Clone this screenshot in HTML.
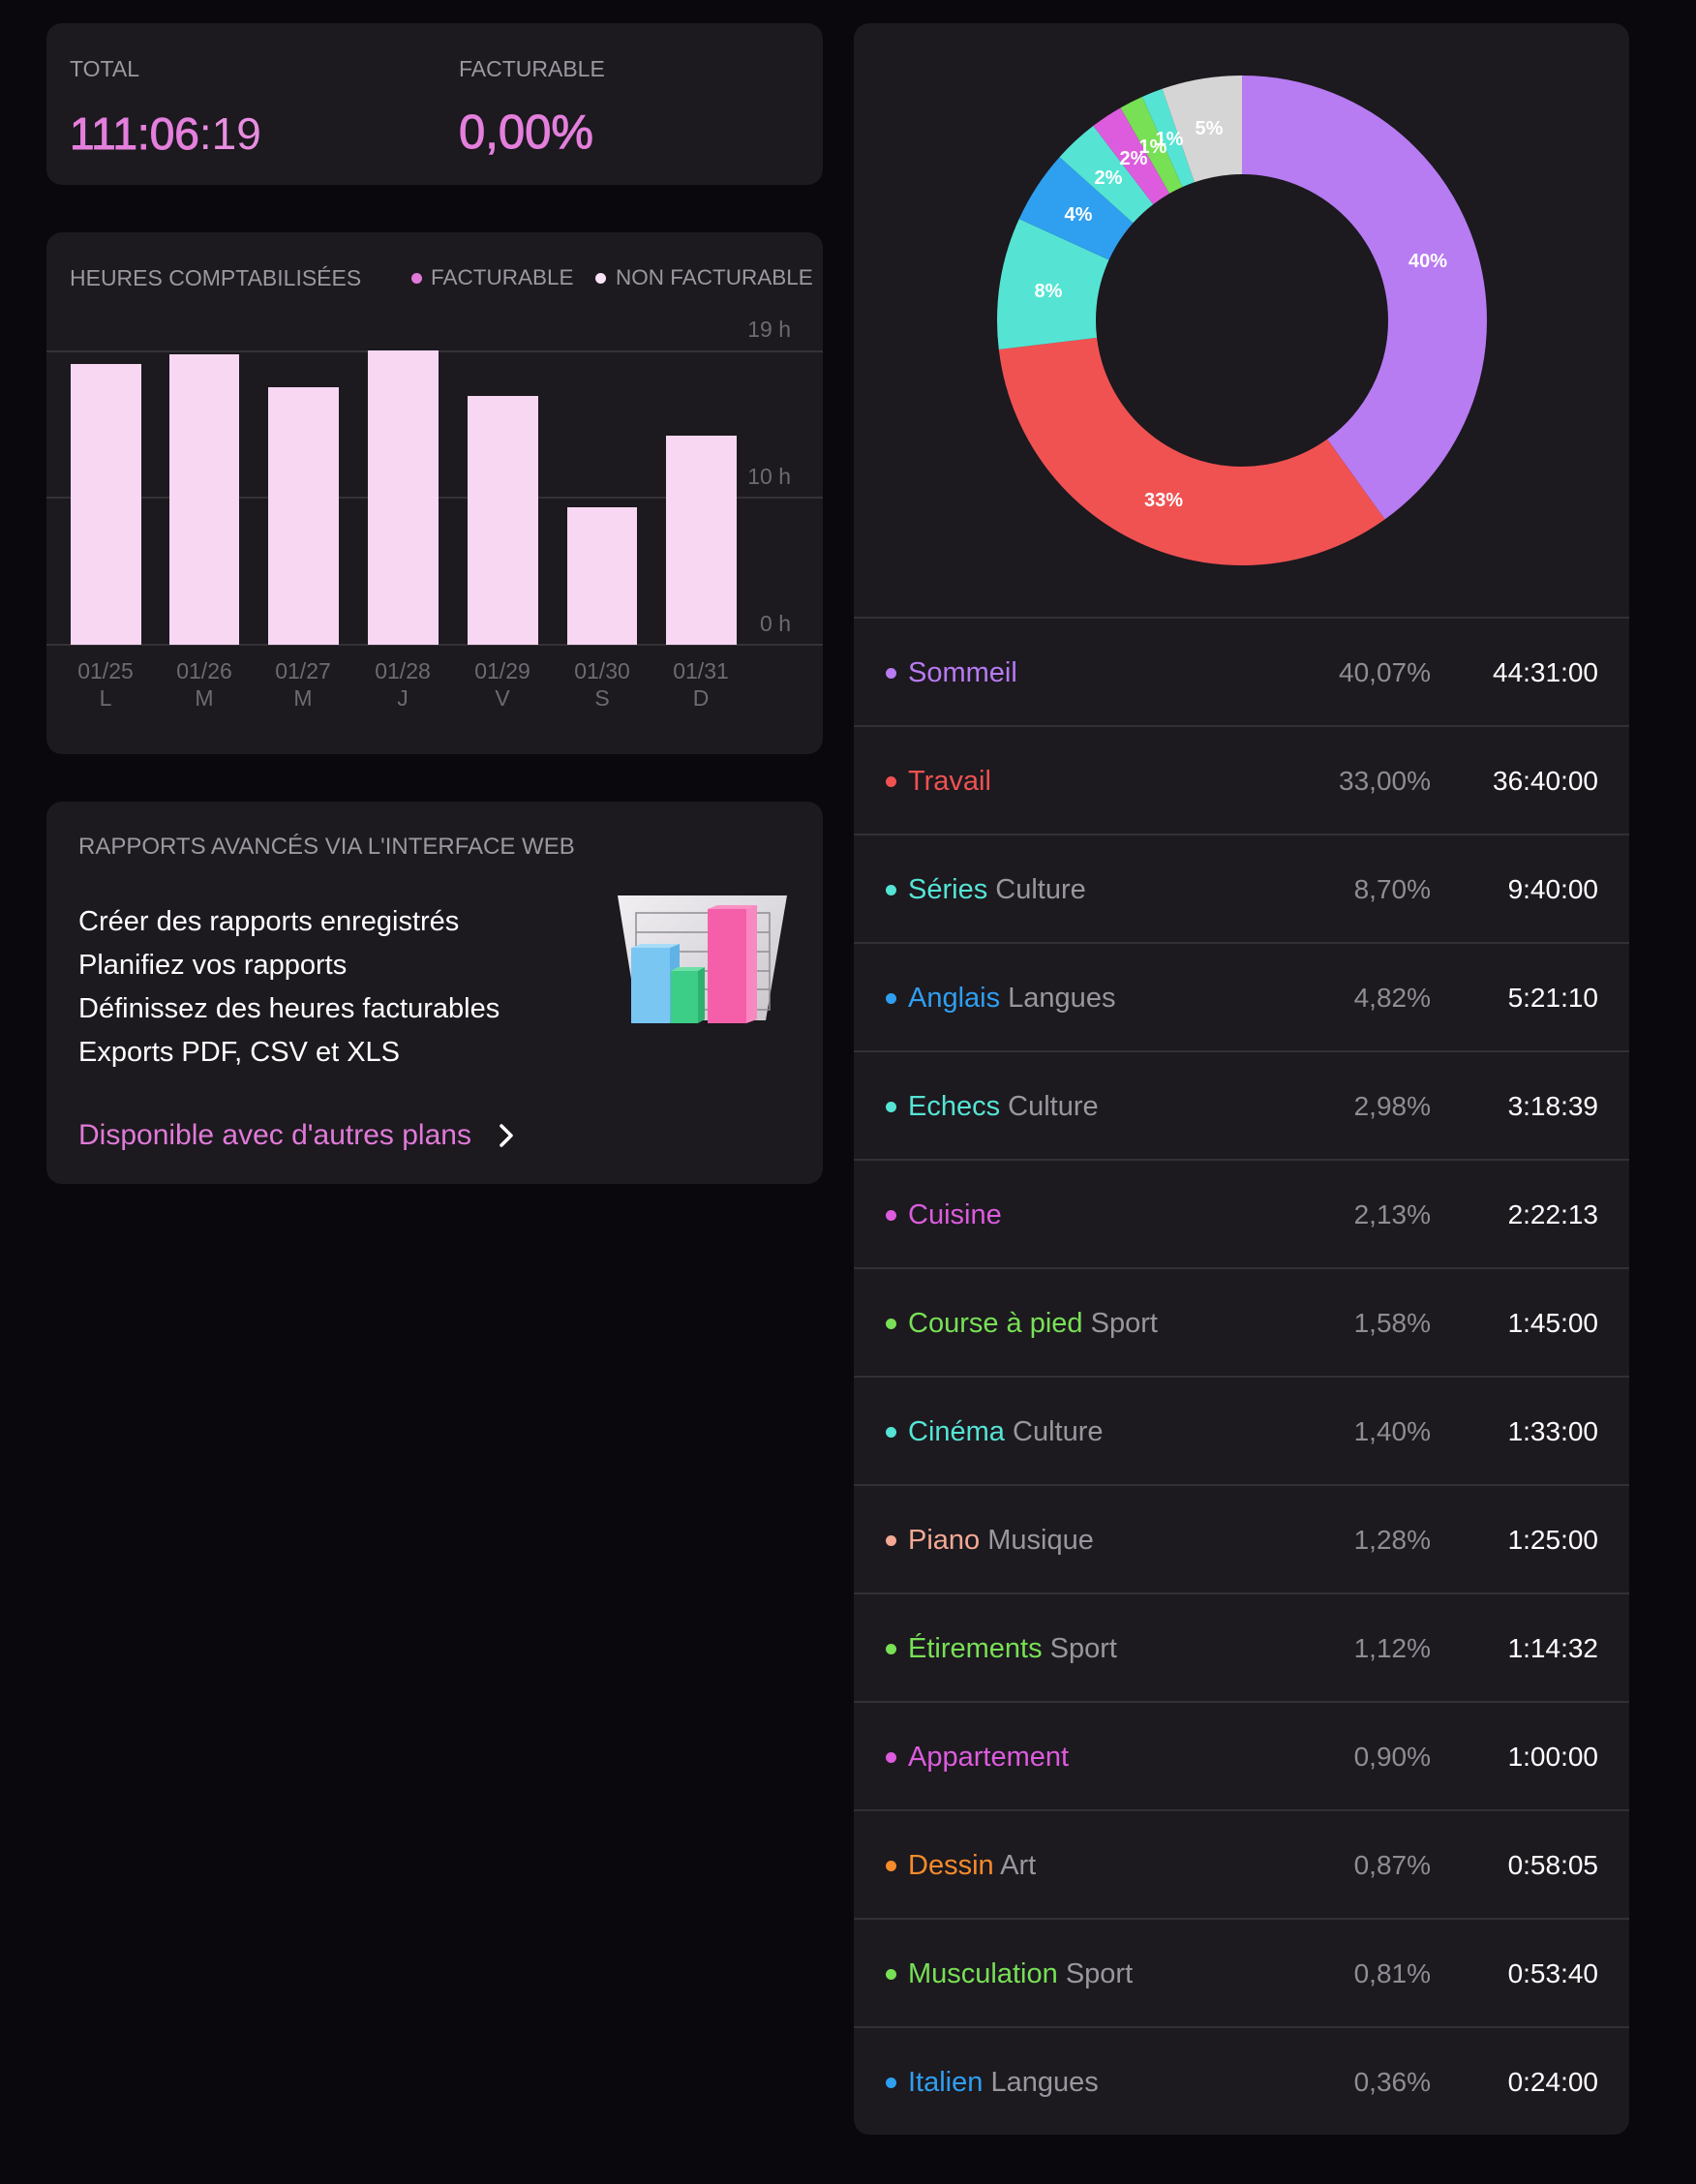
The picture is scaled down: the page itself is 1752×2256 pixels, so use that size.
<!DOCTYPE html>
<html><head><meta charset="utf-8">
<style>
html,body{margin:0;padding:0;}
body{width:1752px;height:2256px;background:#0b080d;position:relative;overflow:hidden;font-family:"Liberation Sans",sans-serif;}
.card{position:absolute;background:#1c191f;border-radius:16px;}
.t{position:absolute;white-space:nowrap;height:40px;line-height:40px;font-family:"Liberation Sans",sans-serif;}
.lbl{font-size:23px;color:#9a999f;}
.ax{font-size:23px;color:#6c6b71;text-align:right;}
.dt{font-size:23px;color:#6c6b71;text-align:center;width:100px;}
.bar{position:absolute;background:#f7d7f1;}
.gl{position:absolute;left:48px;width:802px;height:2px;background:#343137;}
.sep{position:absolute;left:882px;width:801px;height:2px;background:#322f35;}
.dot{position:absolute;width:11px;height:11px;border-radius:50%;}
.nm{font-size:29px;left:938px;}
.cat{color:#98979d;}
.pc{font-size:28px;color:#8e8d93;right:274px;text-align:right;}
.tm{font-size:28px;color:#ffffff;right:101px;text-align:right;}
.line{font-size:29px;color:#ffffff;left:81px;}
</style></head><body>

<!-- Card 1 -->
<div class="card" style="left:48px;top:24px;width:802px;height:167px;"></div>
<div class="t lbl" style="left:72px;top:51px;">TOTAL</div>
<div class="t lbl" style="left:474px;top:51px;">FACTURABLE</div>
<div class="t" style="left:72px;top:113px;height:50px;line-height:50px;font-size:46px;color:#e47fdc;"><span style="-webkit-text-stroke:1px #e47fdc;">111:06</span><span style="color:#e88ee0;">:19</span></div>
<div class="t" style="left:474px;top:112px;height:50px;line-height:50px;font-size:49px;color:#e47fdc;-webkit-text-stroke:1px #e47fdc;">0,00%</div>

<!-- Card 2 -->
<div class="card" style="left:48px;top:240px;width:802px;height:539px;"></div>
<div class="t lbl" style="left:72px;top:267px;">HEURES COMPTABILISÉES</div>
<div class="dot" style="left:425px;top:282px;background:#e07ad8;"></div>
<div class="t lbl" style="left:445px;top:267px;font-size:22.5px;">FACTURABLE</div>
<div class="dot" style="left:615px;top:282px;background:#fbe3f6;"></div>
<div class="t lbl" style="left:636px;top:267px;font-size:22.5px;">NON FACTURABLE</div>

<div class="gl" style="top:362px;"></div>
<div class="gl" style="top:513px;"></div>
<div class="gl" style="top:665px;"></div>
<div class="t ax" style="right:935px;top:320px;">19 h</div>
<div class="t ax" style="right:935px;top:472px;">10 h</div>
<div class="t ax" style="right:935px;top:624px;">0 h</div>

<div class="bar" style="left:73px;top:376px;width:73px;height:290px;"></div>
<div class="bar" style="left:175px;top:366px;width:72px;height:300px;"></div>
<div class="bar" style="left:277px;top:400px;width:73px;height:266px;"></div>
<div class="bar" style="left:380px;top:362px;width:73px;height:304px;"></div>
<div class="bar" style="left:483px;top:409px;width:73px;height:257px;"></div>
<div class="bar" style="left:586px;top:524px;width:72px;height:142px;"></div>
<div class="bar" style="left:688px;top:450px;width:73px;height:216px;"></div>

<div class="t dt" style="left:59px;top:673px;">01/25</div>
<div class="t dt" style="left:161px;top:673px;">01/26</div>
<div class="t dt" style="left:263px;top:673px;">01/27</div>
<div class="t dt" style="left:366px;top:673px;">01/28</div>
<div class="t dt" style="left:469px;top:673px;">01/29</div>
<div class="t dt" style="left:572px;top:673px;">01/30</div>
<div class="t dt" style="left:674px;top:673px;">01/31</div>
<div class="t dt" style="left:59px;top:701px;">L</div>
<div class="t dt" style="left:161px;top:701px;">M</div>
<div class="t dt" style="left:263px;top:701px;">M</div>
<div class="t dt" style="left:366px;top:701px;">J</div>
<div class="t dt" style="left:469px;top:701px;">V</div>
<div class="t dt" style="left:572px;top:701px;">S</div>
<div class="t dt" style="left:674px;top:701px;">D</div>

<!-- Card 3 -->
<div class="card" style="left:48px;top:828px;width:802px;height:395px;"></div>
<div class="t lbl" style="left:81px;top:855px;font-size:24px;">RAPPORTS AVANCÉS VIA L'INTERFACE WEB</div>
<div class="t line" style="top:932px;">Créer des rapports enregistrés</div>
<div class="t line" style="top:977px;">Planifiez vos rapports</div>
<div class="t line" style="top:1022px;">Définissez des heures facturables</div>
<div class="t line" style="top:1067px;">Exports PDF, CSV et XLS</div>
<div class="t line" style="top:1153px;color:#e07ad8;font-size:30px;">Disponible avec d'autres plans</div>
<svg style="position:absolute;left:0;top:0;" width="880" height="1240" viewBox="0 0 880 1240">
  <polyline points="518,1163 528,1173 518,1183" fill="none" stroke="#ffffff" stroke-width="3.5" stroke-linecap="round" stroke-linejoin="round"/>
  <defs>
    <linearGradient id="pg" x1="0" y1="0" x2="1" y2="1">
      <stop offset="0" stop-color="#f1eff2"/><stop offset="1" stop-color="#c8c6cb"/>
    </linearGradient>
  </defs>
  <polygon points="638,925 813,925 791,1054 659,1054" fill="url(#pg)"/>
  <g stroke="#8f8d93" stroke-width="1.5" fill="none">
    <rect x="657" y="943" width="138" height="100"/>
    <line x1="657" y1="963" x2="795" y2="963"/>
    <line x1="657" y1="983" x2="795" y2="983"/>
    <line x1="657" y1="1003" x2="795" y2="1003"/>
    <line x1="657" y1="1022" x2="795" y2="1022"/>
  </g>
  <rect x="652" y="979" width="40" height="78" fill="#79c6f3"/>
  <polygon points="652,979 662,975 702,975 692,979" fill="#a7dcf8"/>
  <polygon points="692,979 702,975 702,1053 692,1057" fill="#5fb2e6"/>
  <rect x="693" y="1003" width="28" height="54" fill="#3ccd86"/>
  <polygon points="693,1003 700,999 728,999 721,1003" fill="#6ee0a8"/>
  <polygon points="721,1003 728,999 728,1053 721,1057" fill="#2fb070"/>
  <rect x="731" y="939" width="40" height="118" fill="#f55fa9"/>
  <polygon points="731,939 741,935 782,935 771,939" fill="#fb8fc3"/>
  <polygon points="771,939 782,935 782,1053 771,1057" fill="#f788c0"/>
</svg>

<!-- Right card -->
<div class="card" style="left:882px;top:24px;width:801px;height:2181px;"></div>
<svg style="position:absolute;left:1000px;top:50px;" width="570" height="570" viewBox="1000 50 570 570">
  <g fill="none" stroke-width="102" transform="rotate(-90 1283 331)">
    <circle cx="1283" cy="331" r="202" stroke="#b77bf2" stroke-dasharray="508.57 2000" stroke-dashoffset="0"/>
    <circle cx="1283" cy="331" r="202" stroke="#f05252" stroke-dasharray="418.84 2000" stroke-dashoffset="-508.57"/>
    <circle cx="1283" cy="331" r="202" stroke="#55e4d4" stroke-dasharray="110.42 2000" stroke-dashoffset="-927.41"/>
    <circle cx="1283" cy="331" r="202" stroke="#2f9ff0" stroke-dasharray="61.18 2000" stroke-dashoffset="-1037.83"/>
    <circle cx="1283" cy="331" r="202" stroke="#55e4d4" stroke-dasharray="37.82 2000" stroke-dashoffset="-1099.0"/>
    <circle cx="1283" cy="331" r="202" stroke="#dc5cdd" stroke-dasharray="27.03 2000" stroke-dashoffset="-1136.82"/>
    <circle cx="1283" cy="331" r="202" stroke="#78e055" stroke-dasharray="20.05 2000" stroke-dashoffset="-1163.86"/>
    <circle cx="1283" cy="331" r="202" stroke="#55e4d4" stroke-dasharray="17.77 2000" stroke-dashoffset="-1183.91"/>
    <circle cx="1283" cy="331" r="202" stroke="#d5d5d5" stroke-dasharray="67.6 2000" stroke-dashoffset="-1201.68"/>
  </g>
  <g fill="#ffffff" font-family="Liberation Sans, sans-serif" font-size="20" font-weight="bold" text-anchor="middle">
    <text x="1475" y="276">40%</text>
    <text x="1202" y="523">33%</text>
    <text x="1083" y="307">8%</text>
    <text x="1114" y="228">4%</text>
    <text x="1145" y="190">2%</text>
    <text x="1171" y="170">2%</text>
    <text x="1191" y="158">1%</text>
    <text x="1208" y="150">1%</text>
    <text x="1249" y="139">5%</text>
  </g>
</svg>

<div class="sep" style="top:637px;"></div>
<div class="sep" style="top:749px;"></div>
<div class="sep" style="top:861px;"></div>
<div class="sep" style="top:973px;"></div>
<div class="sep" style="top:1085px;"></div>
<div class="sep" style="top:1197px;"></div>
<div class="sep" style="top:1309px;"></div>
<div class="sep" style="top:1421px;"></div>
<div class="sep" style="top:1533px;"></div>
<div class="sep" style="top:1645px;"></div>
<div class="sep" style="top:1757px;"></div>
<div class="sep" style="top:1869px;"></div>
<div class="sep" style="top:1981px;"></div>
<div class="sep" style="top:2093px;"></div>

<!-- rows -->
<div class="dot" style="left:915px;top:690px;background:#b77bf2;"></div>
<div class="t nm" style="top:675px;color:#b77bf2;">Sommeil</div>
<div class="t pc" style="top:675px;">40,07%</div>
<div class="t tm" style="top:675px;">44:31:00</div>

<div class="dot" style="left:915px;top:802px;background:#f05252;"></div>
<div class="t nm" style="top:787px;color:#f05252;">Travail</div>
<div class="t pc" style="top:787px;">33,00%</div>
<div class="t tm" style="top:787px;">36:40:00</div>

<div class="dot" style="left:915px;top:914px;background:#55e4d4;"></div>
<div class="t nm" style="top:899px;color:#55e4d4;">Séries <span class="cat">Culture</span></div>
<div class="t pc" style="top:899px;">8,70%</div>
<div class="t tm" style="top:899px;">9:40:00</div>

<div class="dot" style="left:915px;top:1026px;background:#2f9ff0;"></div>
<div class="t nm" style="top:1011px;color:#2f9ff0;">Anglais <span class="cat">Langues</span></div>
<div class="t pc" style="top:1011px;">4,82%</div>
<div class="t tm" style="top:1011px;">5:21:10</div>

<div class="dot" style="left:915px;top:1138px;background:#55e4d4;"></div>
<div class="t nm" style="top:1123px;color:#55e4d4;">Echecs <span class="cat">Culture</span></div>
<div class="t pc" style="top:1123px;">2,98%</div>
<div class="t tm" style="top:1123px;">3:18:39</div>

<div class="dot" style="left:915px;top:1250px;background:#dc5cdd;"></div>
<div class="t nm" style="top:1235px;color:#dc5cdd;">Cuisine</div>
<div class="t pc" style="top:1235px;">2,13%</div>
<div class="t tm" style="top:1235px;">2:22:13</div>

<div class="dot" style="left:915px;top:1362px;background:#78e055;"></div>
<div class="t nm" style="top:1347px;color:#78e055;">Course à pied <span class="cat">Sport</span></div>
<div class="t pc" style="top:1347px;">1,58%</div>
<div class="t tm" style="top:1347px;">1:45:00</div>

<div class="dot" style="left:915px;top:1474px;background:#55e4d4;"></div>
<div class="t nm" style="top:1459px;color:#55e4d4;">Cinéma <span class="cat">Culture</span></div>
<div class="t pc" style="top:1459px;">1,40%</div>
<div class="t tm" style="top:1459px;">1:33:00</div>

<div class="dot" style="left:915px;top:1586px;background:#f4a994;"></div>
<div class="t nm" style="top:1571px;color:#f4a994;">Piano <span class="cat">Musique</span></div>
<div class="t pc" style="top:1571px;">1,28%</div>
<div class="t tm" style="top:1571px;">1:25:00</div>

<div class="dot" style="left:915px;top:1698px;background:#78e055;"></div>
<div class="t nm" style="top:1683px;color:#78e055;">Étirements <span class="cat">Sport</span></div>
<div class="t pc" style="top:1683px;">1,12%</div>
<div class="t tm" style="top:1683px;">1:14:32</div>

<div class="dot" style="left:915px;top:1810px;background:#dc5cdd;"></div>
<div class="t nm" style="top:1795px;color:#dc5cdd;">Appartement</div>
<div class="t pc" style="top:1795px;">0,90%</div>
<div class="t tm" style="top:1795px;">1:00:00</div>

<div class="dot" style="left:915px;top:1922px;background:#f68b2a;"></div>
<div class="t nm" style="top:1907px;color:#f68b2a;">Dessin <span class="cat">Art</span></div>
<div class="t pc" style="top:1907px;">0,87%</div>
<div class="t tm" style="top:1907px;">0:58:05</div>

<div class="dot" style="left:915px;top:2034px;background:#78e055;"></div>
<div class="t nm" style="top:2019px;color:#78e055;">Musculation <span class="cat">Sport</span></div>
<div class="t pc" style="top:2019px;">0,81%</div>
<div class="t tm" style="top:2019px;">0:53:40</div>

<div class="dot" style="left:915px;top:2146px;background:#2f9ff0;"></div>
<div class="t nm" style="top:2131px;color:#2f9ff0;">Italien <span class="cat">Langues</span></div>
<div class="t pc" style="top:2131px;">0,36%</div>
<div class="t tm" style="top:2131px;">0:24:00</div>

</body></html>
